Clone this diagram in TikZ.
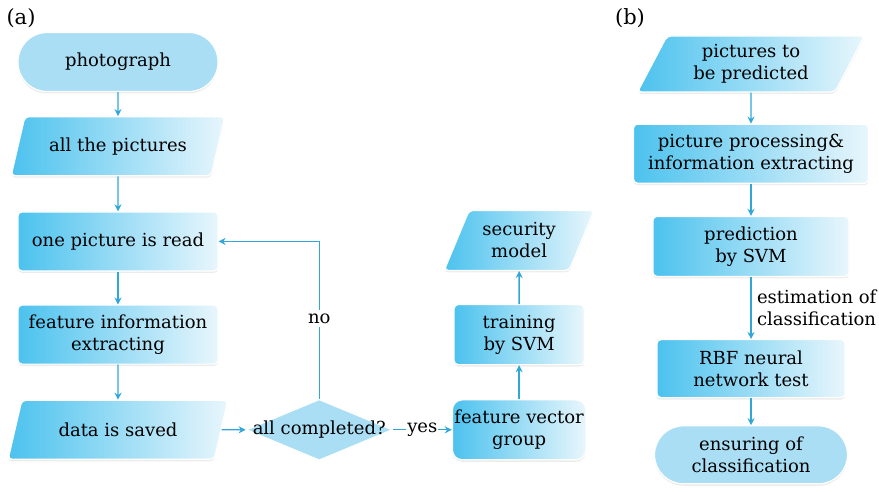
\documentclass[tikz,border=0pt]{standalone}
\usepackage{fontspec}
\setmainfont{DejaVu Serif}
\usetikzlibrary{arrows.meta,positioning,shapes.geometric,shadows}
\definecolor{flowdark}{HTML}{4CC2EE}
\definecolor{flowlight}{HTML}{E8F6FC}
\definecolor{flowhatch}{HTML}{A9DEF5}
\definecolor{flowline}{HTML}{2FA8D8}

\begin{document}
\begin{tikzpicture}[x=1pt,y=-1pt,every node/.style={font=\fontsize{18}{22}\selectfont},
    proc/.style={rectangle,rounded corners=4pt,draw=white,line width=1.2pt,left color=flowdark,right color=flowlight,align=center,minimum height=59pt,inner sep=2pt,drop shadow={opacity=0.15,shadow xshift=0pt,shadow yshift=-2pt}},
    io/.style={trapezium,trapezium left angle=64,trapezium right angle=116,trapezium stretches=true,rounded corners=4pt,draw=white,line width=1.2pt,left color=flowdark,right color=flowlight,align=center,minimum height=59pt,inner sep=2pt,drop shadow={opacity=0.15,shadow xshift=0pt,shadow yshift=-2pt}},
    term/.style={rectangle,rounded corners=29pt,draw=white,line width=1.2pt,fill=flowhatch,align=center,minimum height=59pt,inner sep=2pt,drop shadow={opacity=0.15,shadow xshift=0pt,shadow yshift=-2pt}},
    decision/.style={diamond,inner sep=0pt,draw=white,line width=1.2pt,fill=flowhatch,minimum width=146pt,minimum height=61pt},
    link/.style={draw=flowline,line width=1.3pt,-{Stealth[length=7pt,width=7pt]}}]
  \useasboundingbox (0,0) rectangle (879,492);
  \node[font=\fontsize{21}{24}\selectfont] (labela) at (21,18) {(a)};
  \node[font=\fontsize{21}{24}\selectfont] (labelb) at (630,18) {(b)};
  % (a) left column
  \node[term,minimum width=200pt] (photo) at (118,62) {photograph};
  \node[io,minimum width=214pt,below=24pt of photo] (allpics) {all the pictures};
  \node[proc,minimum width=200pt,below=35pt of allpics] (read) {one picture is read};
  \node[proc,minimum width=200pt,below=33pt of read] (feat) {feature information\\extracting};
  \node[io,minimum width=220pt,below=35pt of feat] (saved) {data is saved};
  % decision and training branch
  \node[decision,right=24pt of saved,label={[font=\fontsize{18}{22}\selectfont]center:all completed?}] (check) {};
  \node[proc,rounded corners=10pt,minimum width=133pt,minimum height=60pt,right=59pt of check] (vecgroup) {feature vector\\group};
  \node[proc,minimum width=130pt,minimum height=60pt,above=34pt of vecgroup] (train) {training\\by SVM};
  \node[io,minimum width=150pt,minimum height=60pt,above=33pt of train] (secmodel) {security\\model};
  % (b) right column
  \node[io,minimum width=227pt,minimum height=56pt] (topredict) at (751,64) {pictures to\\be predicted};
  \node[proc,minimum width=235pt,below=31pt of topredict] (picproc) {picture processing\&\\information extracting};
  \node[proc,minimum width=196pt,minimum height=60pt,below=32pt of picproc] (predict) {prediction\\by SVM};
  \node[proc,minimum width=188pt,minimum height=58pt,below=62pt of predict] (rbf) {RBF neural\\network test};
  \node[term,minimum width=193pt,minimum height=58pt,below=27pt of rbf] (ensure) {ensuring of\\classification};
  % connectors
  \draw[link] (photo) -- (allpics);
  \draw[link] (allpics) -- (read);
  \draw[link] (read) -- (feat);
  \draw[link] (feat) -- (saved);
  \draw[link] (saved) -- (check);
  \draw[link] (check) -- node[fill=white,inner sep=1pt] {yes} (vecgroup);
  \draw[link] (check.north) |- node[pos=0.255,fill=white] {no} (read.east);
  \draw[link] (vecgroup) -- (train);
  \draw[link] (train) -- (secmodel);
  \draw[link] (topredict) -- (picproc);
  \draw[link] (picproc) -- (predict);
  \draw[link] (predict) -- node[right,align=left,xshift=2pt] {estimation of\\classification} (rbf);
  \draw[link] (rbf) -- (ensure);
\end{tikzpicture}
\end{document}
